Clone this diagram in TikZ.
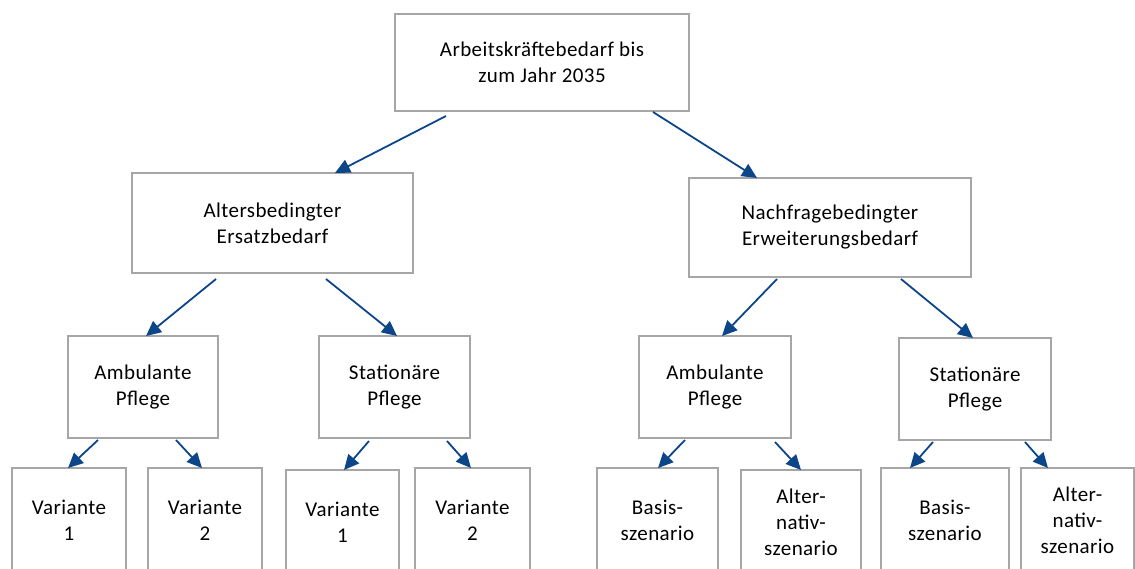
\documentclass[tikz,border=0pt]{standalone}
\usepackage{fontspec}
\setmainfont{Carlito}[LetterSpace=2]
\usetikzlibrary{arrows.meta,calc}
\definecolor{boxgray}{RGB}{166,166,166}
\definecolor{arrblue}{RGB}{12,70,136}
\begin{document}
\begin{tikzpicture}[x=1pt,y=-1pt,
  box/.style={draw=boxgray,line width=2pt,fill=white,outer sep=0pt,inner sep=0pt,
    align=center,font=\fontsize{21}{26}\selectfont},
  conn/.style={draw=arrblue,line width=1.8pt,-{Triangle[length=15pt,width=14pt]}}]
\useasboundingbox (0,0) rectangle (1135,568);
\clip (0,0) rectangle (1135,568);
% level 0
\node[box,minimum width=294pt,minimum height=97pt] (top) at (542,62.5) {Arbeitskräftebedarf bis\\zum Jahr 2035};
% level 1
\node[box,minimum width=281pt,minimum height=100pt] (alt) at (272.5,223) {Altersbedingter\\Ersatzbedarf};
\node[box,minimum width=282pt,minimum height=99pt] (nach) at (830,227.5) {Nachfragebedingter\\Erweiterungsbedarf};
% level 2
\node[box,minimum width=150pt,minimum height=102pt] (ambL) at (143,387) {Ambulante\\Pflege};
\node[box,minimum width=151pt,minimum height=102pt] (statL) at (394.5,387) {Stationäre\\Pflege};
\node[box,minimum width=152pt,minimum height=102pt] (ambR) at (715,387) {Ambulante\\Pflege};
\node[box,minimum width=152pt,minimum height=102pt] (statR) at (975,389) {Stationäre\\Pflege};
% level 3
\node[box,minimum width=114pt,minimum height=104pt] (v1a) at (69,520) {Variante\\1};
\node[box,minimum width=114pt,minimum height=104pt] (v2a) at (205,520) {Variante\\2};
\node[box,minimum width=113pt,minimum height=104pt] (v1b) at (342.5,522) {Variante\\1};
\node[box,minimum width=115pt,minimum height=104pt] (v2b) at (472.5,520) {Variante\\2};
\node[box,minimum width=121pt,minimum height=104pt] (basA) at (657.5,520) {Basis-\\szenario};
\node[box,minimum width=120pt,minimum height=104pt] (altA) at (801,522) {Alter-\\nativ-\\szenario};
\node[box,minimum width=128pt,minimum height=104pt] (basB) at (945,520) {Basis-\\szenario};
\node[box,minimum width=113pt,minimum height=104pt] (altB) at (1077.5,520) {Alter-\\nativ-\\szenario};
% connectors
\draw[conn] ($(top.south west)+(51,5)$) -- ($(alt.north west)+(203,0)$);
\draw[conn] ($(top.south east)+(-36,1)$) -- ($(nach.north west)+(68,0)$);
\draw[conn] ($(alt.south west)+(84,6)$) -- ($(ambL.north west)+(78,0)$);
\draw[conn] ($(alt.south west)+(194,6)$) -- ($(statL.north west)+(78,0)$);
\draw[conn] ($(nach.south west)+(88,2)$) -- ($(ambR.north west)+(83,0)$);
\draw[conn] ($(nach.south west)+(212,2)$) -- ($(statR.north west)+(74,0)$);
\draw[conn] ($(ambL.south west)+(30,2)$) -- ($(v1a.north west)+(56,0)$);
\draw[conn] ($(ambL.south west)+(108,2)$) -- ($(v2a.north west)+(54,0)$);
\draw[conn] ($(statL.south west)+(50,3)$) -- ($(v1b.north west)+(58,0)$);
\draw[conn] ($(statL.south west)+(128,3)$) -- ($(v2b.north west)+(56,0)$);
\draw[conn] ($(ambR.south west)+(46,2)$) -- ($(basA.north west)+(61,0)$);
\draw[conn] ($(ambR.south west)+(136,4)$) -- ($(altA.north west)+(60,0)$);
\draw[conn] ($(statR.south west)+(34,2)$) -- ($(basB.north west)+(29,0)$);
\draw[conn] ($(statR.south west)+(126,2)$) -- ($(altB.north west)+(27,0)$);
\end{tikzpicture}
\end{document}
